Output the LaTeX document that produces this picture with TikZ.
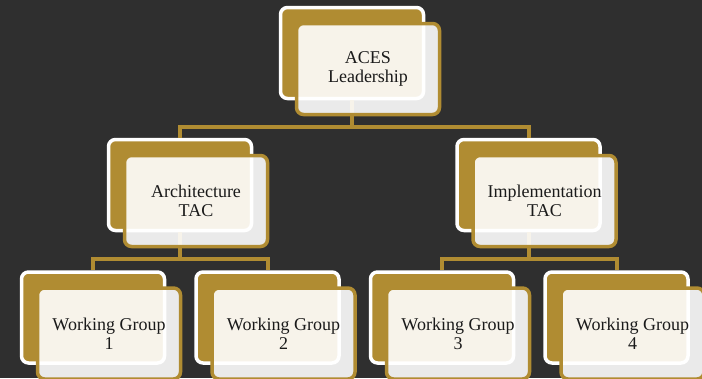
\documentclass[tikz,border=0pt]{standalone}
\usepackage{fontspec}
\setmainfont{Liberation Serif}
\definecolor{bgdark}{HTML}{2F2F2F}
\definecolor{gold}{HTML}{B08C32}
\definecolor{ink}{HTML}{1A1A1A}
\begin{document}
\begin{tikzpicture}[x=1pt, y=-1pt,
    backbox/.style={rectangle, rounded corners=7pt, draw=white, fill=gold, line width=3.5pt, minimum width=143pt, minimum height=91pt, inner sep=0pt},
    frontbox/.style={rectangle, rounded corners=7pt, draw=gold, fill=white, fill opacity=0.9, draw opacity=1, text opacity=1, line width=3.5pt, minimum width=143pt, minimum height=91pt, inner sep=0pt, align=center, text=ink, font=\fontsize{18}{19}\selectfont, xshift=16pt, yshift=-16pt},
    link/.style={draw=gold, line width=4pt},]

        % Background and page size
        \fill[bgdark] (0,0) rectangle (702,378);
        \useasboundingbox (0,0) rectangle (702,378);

        % Define the centres of the boxes
        \coordinate (L) at (352,53);
        \coordinate (A) at (180,185);
        \coordinate (I) at (528.5,185);
        \coordinate (W1) at (93,317.5);
        \coordinate (W2) at (267.5,317.5);
        \coordinate (W3) at (442,317.5);
        \coordinate (W4) at (616.5,317.5);

        % Back boxes
        \node[backbox] (lead) at (L) {};
        \node[backbox] (arch) at (A) {};
        \node[backbox] (impl) at (I) {};
        \node[backbox] (wg1) at (W1) {};
        \node[backbox] (wg2) at (W2) {};
        \node[backbox] (wg3) at (W3) {};
        \node[backbox] (wg4) at (W4) {};

        % Connectors
        \draw[link] (lead.south) -- ++(0,27) -| (arch.north);
        \draw[link] (lead.south) -- ++(0,27) -| (impl.north);
        \draw[link] (arch.south) -- ++(0,27) -| (wg1.north);
        \draw[link] (arch.south) -- ++(0,27) -| (wg2.north);
        \draw[link] (impl.south) -- ++(0,27) -| (wg3.north);
        \draw[link] (impl.south) -- ++(0,27) -| (wg4.north);

        % Front boxes with the labels
        \node[frontbox] (leadF) at (L) {ACES\\Leadership};
        \node[frontbox] (archF) at (A) {Architecture\\TAC};
        \node[frontbox] (implF) at (I) {Implementation\\TAC};
        \node[frontbox] (wg1F) at (W1) {Working Group\\1};
        \node[frontbox] (wg2F) at (W2) {Working Group\\2};
        \node[frontbox] (wg3F) at (W3) {Working Group\\3};
        \node[frontbox] (wg4F) at (W4) {Working Group\\4};

    \end{tikzpicture}
\end{document}
